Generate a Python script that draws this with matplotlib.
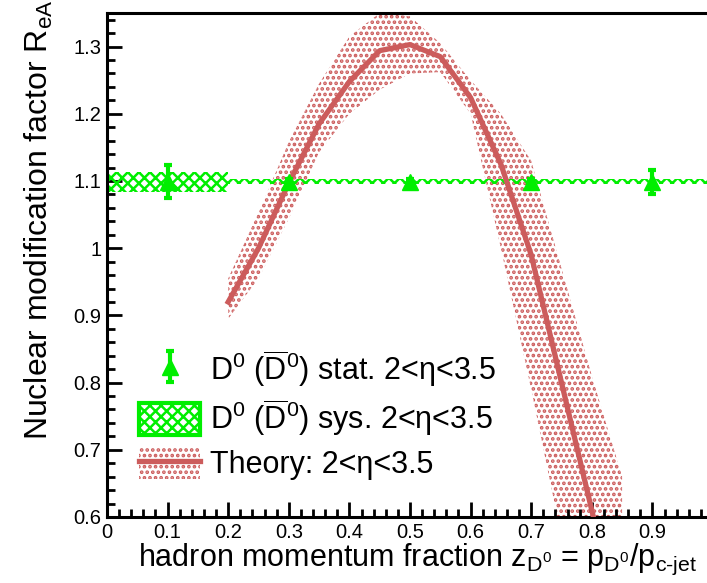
import matplotlib
matplotlib.use("Agg")
import matplotlib.pyplot as plt
from matplotlib.patches import Patch, Rectangle
from matplotlib.lines import Line2D
from matplotlib.ticker import MultipleLocator

plt.rcParams['font.family'] = ['Liberation Sans', 'DejaVu Sans']
plt.rcParams['mathtext.fontset'] = 'custom'
plt.rcParams['mathtext.rm'] = 'Liberation Sans'
plt.rcParams['mathtext.it'] = 'Liberation Sans:italic'
plt.rcParams['hatch.linewidth'] = 1.8

# data points (D0 stat + sys)
bin_lo = [0.0, 0.2, 0.4, 0.6, 0.8]
bin_hi = [0.2, 0.4, 0.6, 0.8, 1.0]
pt_x = [0.1, 0.3, 0.5, 0.7, 0.9]
pt_y = [1.099, 1.099, 1.099, 1.099, 1.099]
stat_err = [0.025, 0.004, 0.004, 0.004, 0.018]
sys_err = [0.015, 0.004, 0.004, 0.004, 0.004]

# theory curve and band
th_x = [0.20, 0.25, 0.30, 0.35, 0.40, 0.45, 0.50, 0.55, 0.60, 0.65, 0.70, 0.75, 0.80, 0.85]
th_y = [0.920, 1.000, 1.097, 1.185, 1.248, 1.294, 1.303, 1.285, 1.224, 1.125, 0.990, 0.800, 0.610, 0.420]
th_up = [0.955, 1.053, 1.158, 1.245, 1.315, 1.350, 1.345, 1.305, 1.250, 1.200, 1.130, 0.970, 0.810, 0.660]
th_lo = [0.895, 0.955, 1.044, 1.143, 1.200, 1.236, 1.260, 1.262, 1.200, 1.000, 0.790, 0.570, 0.390, 0.200]

green = '#00ee00'
red = '#cc5c5c'

fig = plt.figure(figsize=(7.07, 5.83), dpi=100)
ax = fig.add_axes([107/707, 1-517/583, (713-107)/707, (517-13)/583])

# theory band + line
ax.fill_between(th_x, th_lo, th_up, facecolor='none', edgecolor=red,
                hatch='...', linewidth=0, zorder=1)
ax.plot(th_x, th_y, color=red, lw=3.8, zorder=3)

# systematic boxes
for lo, hi, y, e in zip(bin_lo, bin_hi, pt_y, sys_err):
    ax.add_patch(Rectangle((lo, y - e), hi - lo, 2*e, facecolor='none',
                           edgecolor=green, hatch='xxx', linewidth=0, zorder=2))

# stat points
eb = ax.errorbar(pt_x, pt_y, yerr=stat_err, fmt='^', color=green, ms=12,
                 elinewidth=3, capsize=3, capthick=3, zorder=4)

ax.set_xlim(0, 1)
ax.set_ylim(0.6, 1.35)
ax.xaxis.set_minor_locator(MultipleLocator(0.02))
ax.yaxis.set_minor_locator(MultipleLocator(0.02))
ax.set_xticks([0, 0.1, 0.2, 0.3, 0.4, 0.5, 0.6, 0.7, 0.8, 0.9])
ax.set_xticklabels(['0', '0.1', '0.2', '0.3', '0.4', '0.5', '0.6', '0.7', '0.8', '0.9'])
ax.set_yticks([0.6, 0.7, 0.8, 0.9, 1.0, 1.1, 1.2, 1.3])
ax.set_yticklabels(['0.6', '0.7', '0.8', '0.9', '1', '1.1', '1.2', '1.3'])
ax.tick_params(which='both', direction='in', width=2, labelsize=14.5)
ax.tick_params(which='major', length=11, pad=4)
ax.tick_params(which='minor', length=6)
for s in ax.spines.values():
    s.set_linewidth(2.2)

ax.set_ylabel(r'Nuclear modification factor R$_{\rm eA}$', fontsize=23)
ax.yaxis.set_label_coords(-0.085, 0.59)
ax.set_xlabel(r'hadron momentum fraction z$_{\rm D^0}$ = p$_{\rm D^0}$/p$_{\rm c\text{-}jet}$',
              fontsize=22)
ax.xaxis.set_label_coords(0.513, -0.05)

# legend
sys_handle = Patch(facecolor='white', edgecolor=green, hatch='xxx', linewidth=3)
th_band = Patch(facecolor='none', edgecolor=red, hatch='...', linewidth=0)
th_line = Line2D([], [], color=red, lw=3.8)
labels = [r'D$^0$ ($\overline{\rm D}^0$) stat. 2<η<3.5',
          r'D$^0$ ($\overline{\rm D}^0$) sys. 2<η<3.5',
          'Theory: 2<η<3.5']
ax.legend([eb, sys_handle, (th_band, th_line)], labels, loc='lower left',
          bbox_to_anchor=(0.018, 0.03), frameon=False, fontsize=22,
          handlelength=2.0, handleheight=1.2, labelspacing=0.3,
          handletextpad=0.3, borderaxespad=0.3)

fig.savefig('out.png', dpi=100)
